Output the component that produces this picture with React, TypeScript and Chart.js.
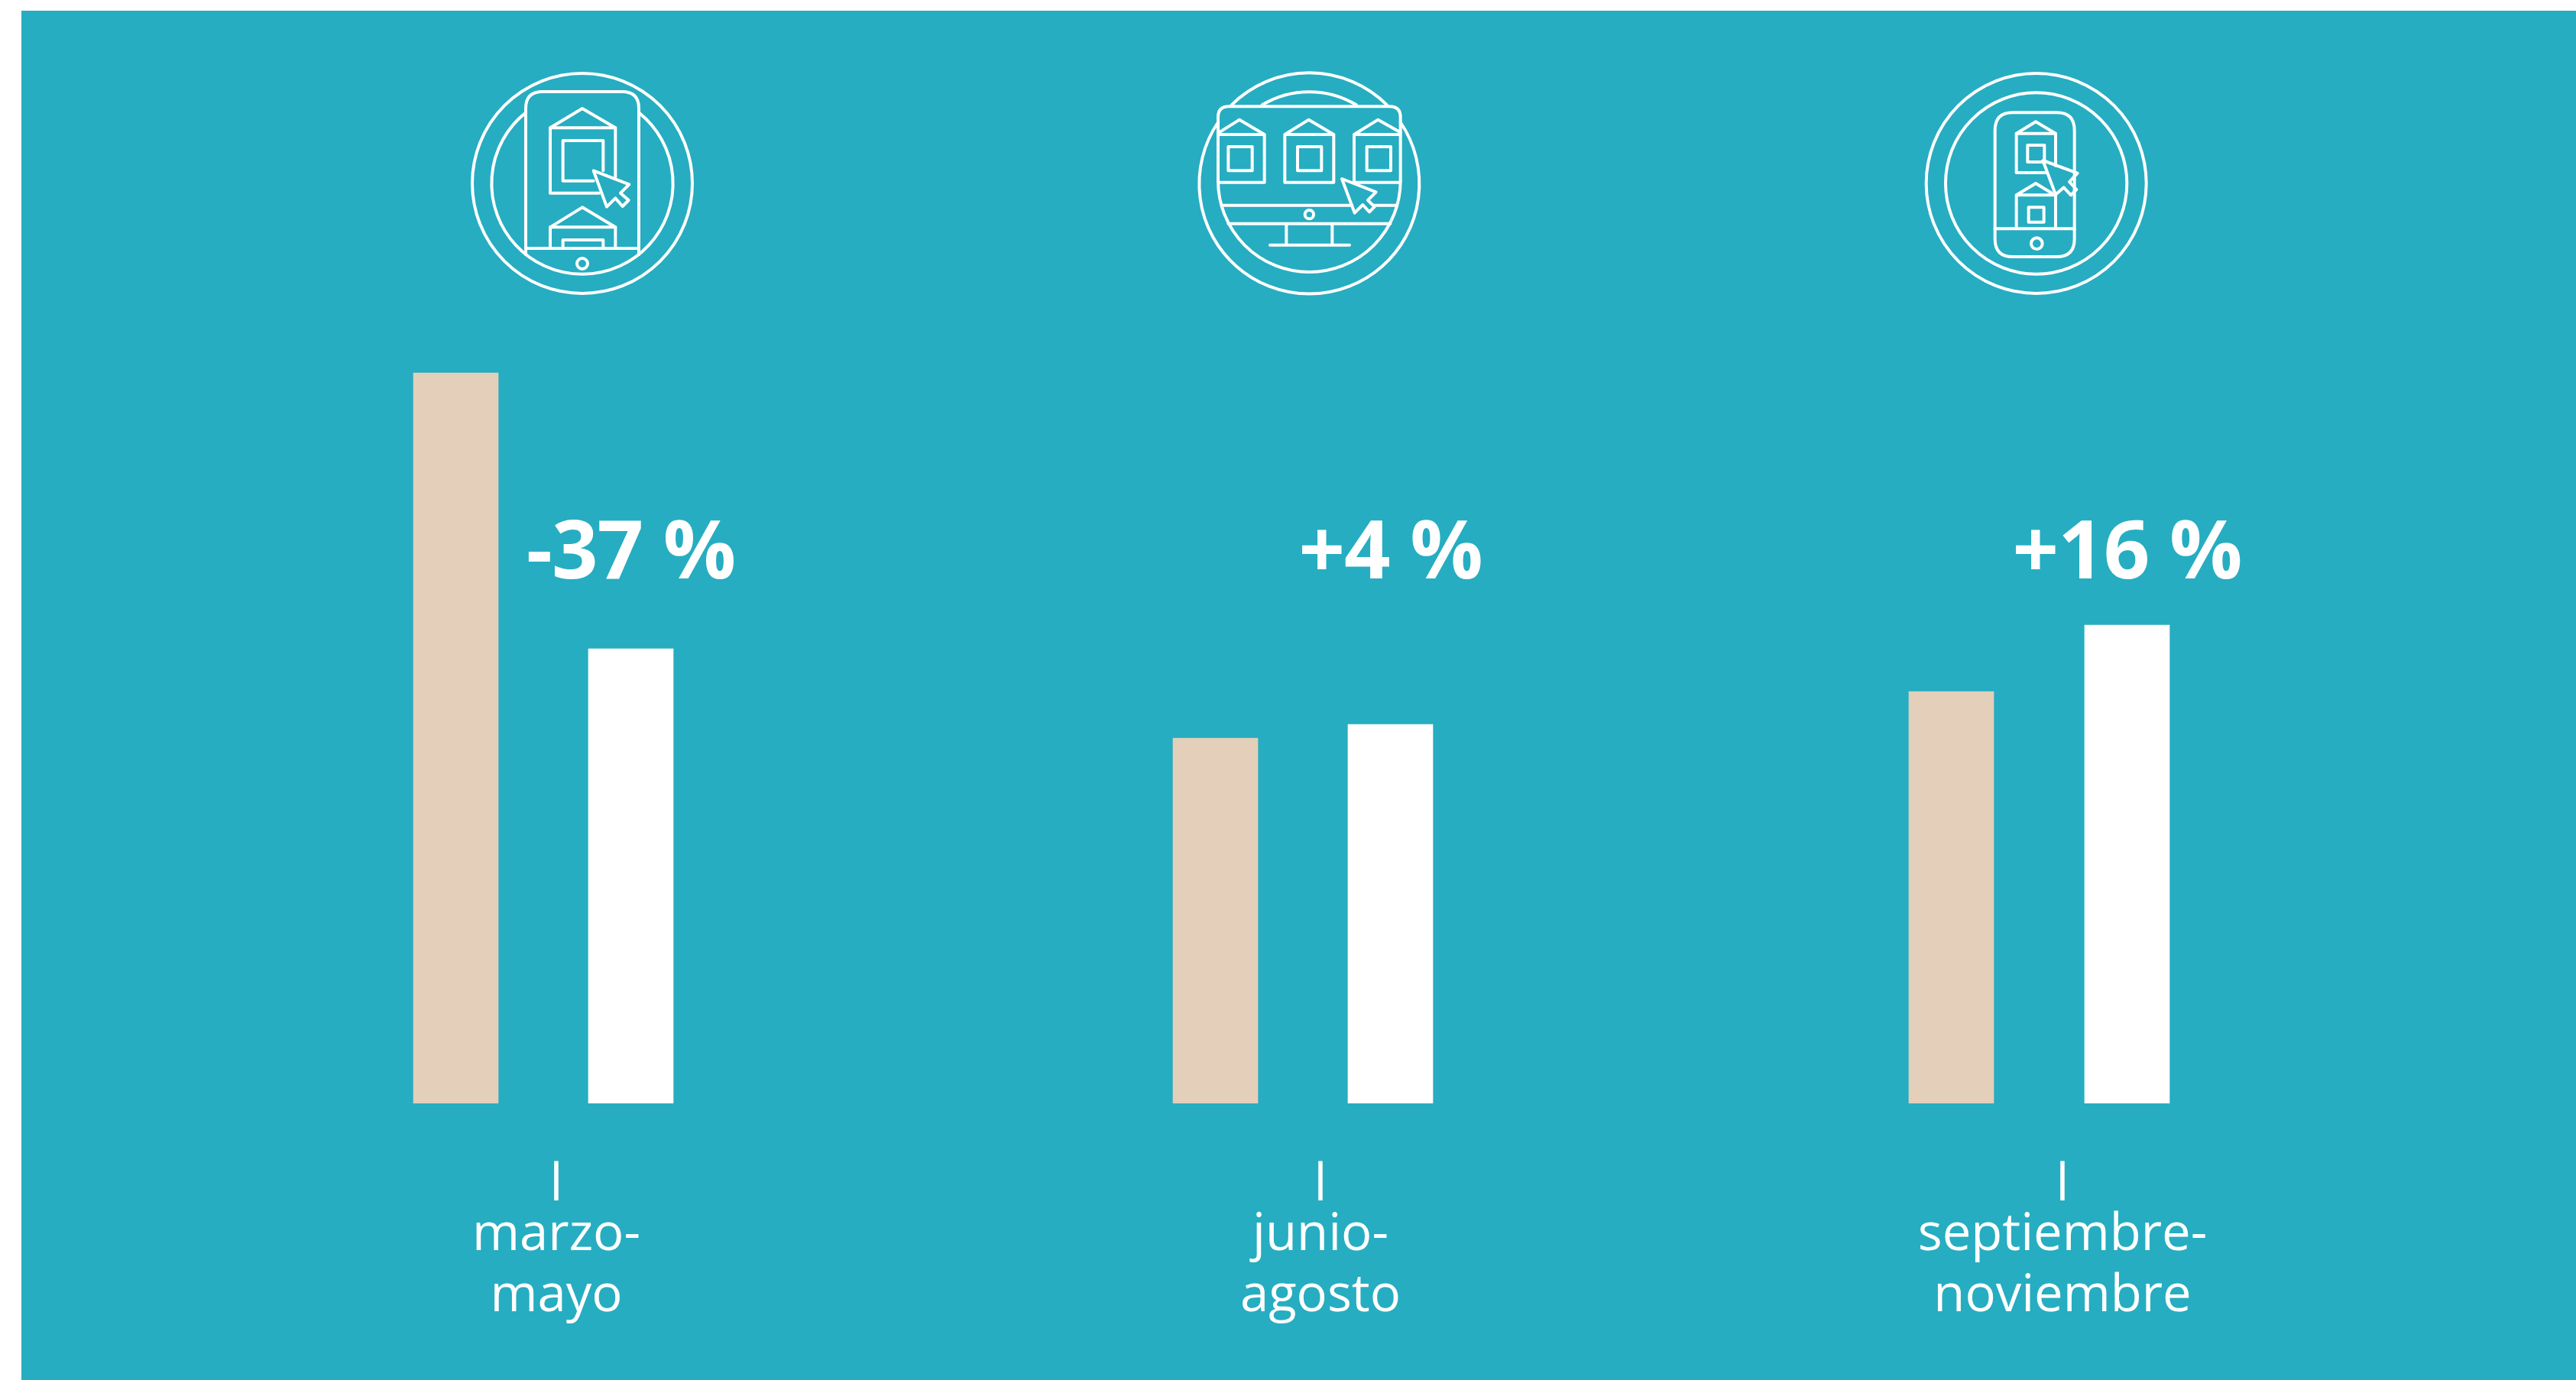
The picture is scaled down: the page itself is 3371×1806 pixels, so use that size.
import React, { useEffect, useRef } from "react";
import { Chart, registerables } from "chart.js";

Chart.register(...registerables);

// ---- data ----
const periodLabels: string[][] = [["marzo-", "mayo"], ["junio-", "agosto"], ["septiembre-", "noviembre"]];
const before: number[] = [100, 50, 56.38];
const after: number[] = [62.24, 51.88, 65.48];
const changeLabels: string[] = ["-37 %", "+4 %", "+16 %"];

// ---- layout (canvas px) ----
const W = 3371;
const H = 1806;
const barCenters1 = [596.5, 1590.5, 2553.5];
const barCenters2 = [825.5, 1819.5, 2783.5];
const labelCenters = [728, 1728, 2699];
const Y_MAX = 151.05;
const BASELINE = 1444;

const TEAL = "#26adc1";
const BEIGE = "#e4cfba";
const FONT = "'Open Sans', sans-serif";

type Icon = { ox: number; oy: number; paths: string[] };
const circle = (x: number, y: number, r: number) =>
  `M${x - r} ${y} A${r} ${r} 0 1 1 ${x + r} ${y} A${r} ${r} 0 1 1 ${x - r} ${y} Z`;
const rect = (a: number, b: number, c: number, d: number) => `M${a} ${b} H${c} V${d} H${a} Z`;

const icons: Icon[] = [
  {
    ox: 560,
    oy: 60,
    paths: [
      circle(606, 540, 432),
      "M828 262 A356 356 0 1 1 384 262",
      "M384 820 V245 Q384 180 450 180 H762 Q828 180 828 245 V820",
      "M384 795 H828",
      circle(606, 855, 21),
      "M480 322 L606 246 L736 322 Z",
      "M736 322 V515 M480 322 V578 H672",
      "M688 490 V372 H530 V530 H650",
      "M650 490 L790 544 L756 578 L788 606 L764 630 L736 598 L702 632 Z",
      "M480 712 L606 634 L736 712 Z",
      "M480 712 V795 M736 712 V795 M530 795 V762 H688 V795",
    ],
  },
  {
    ox: 1520,
    oy: 60,
    paths: [
      "M275 232 A432 432 0 0 1 885 232",
      "M938 300 A432 432 0 1 1 222 300",
      "M395 232 A358 358 0 0 1 765 232",
      "M222 530 V280 Q222 238 265 238 H895 Q938 238 938 280 V530",
      "M222 530 A358 358 0 0 0 938 530",
      "M236 626 H748 M832 626 H922",
      "M262 698 H898",
      "M490 698 V782 M670 698 V782 M426 782 H738",
      circle(580, 662, 17),
      "M226 340 L306 290 L404 348 M222 348 H404 V536 H226",
      rect(262, 396, 356, 490),
      "M484 348 L578 290 L676 348 Z M484 348 V536 H676 V348",
      rect(534, 396, 628, 490),
      "M756 348 L850 290 L938 340 M756 348 H938 M756 348 V536 M756 536 H936",
      rect(806, 396, 900, 490),
      "M708 522 L842 574 L810 606 L836 632 L816 652 L790 624 L758 656 Z",
    ],
  },
  {
    ox: 2470,
    oy: 60,
    paths: [
      circle(584, 540, 432),
      circle(584, 540, 356),
      "M492 262 H664 Q734 262 734 332 V758 Q734 828 664 828 H492 Q422 828 422 758 V332 Q422 262 492 262 Z",
      "M422 718 H734",
      circle(586, 776, 22),
      "M506 344 L582 298 L660 344 Z",
      "M506 344 V498 H620 M660 344 V470",
      rect(550, 390, 616, 456),
      "M610 450 L746 500 L714 534 L742 564 L720 586 L692 556 L660 584 Z",
      "M506 586 L582 540 L645 578 M506 586 V710 M506 586 H660 V710",
      rect(554, 634, 614, 692),
    ],
  },
];

const decorPlugin = {
  id: "decor",
  beforeDraw(chart: any) {
    const { ctx } = chart;
    ctx.save();
    ctx.fillStyle = "#ffffff";
    ctx.fillRect(0, 0, W, H);
    ctx.fillStyle = TEAL;
    ctx.fillRect(28, 14, W - 28, H - 14);
    ctx.restore();
  },
  afterDraw(chart: any) {
    const { ctx } = chart;
    ctx.save();
    // icons
    ctx.strokeStyle = "#ffffff";
    ctx.lineJoin = "round";
    ctx.lineCap = "round";
    icons.forEach((ic) => {
      ctx.save();
      ctx.translate(ic.ox, ic.oy);
      ctx.scale(1 / 3, 1 / 3);
      ctx.lineWidth = 12;
      ic.paths.forEach((p) => ctx.stroke(new Path2D(p)));
      ctx.restore();
    });
    // change labels, above the second series' bars
    const meta = chart.getDatasetMeta(1);
    ctx.fillStyle = "#ffffff";
    ctx.textAlign = "center";
    ctx.textBaseline = "alphabetic";
    ctx.font = `bold 106px ${FONT}`;
    ctx.letterSpacing = "-1px";
    changeLabels.forEach((t, i) => {
      ctx.fillText(t, meta.data[i].x, 757);
    });
    ctx.letterSpacing = "0px";
    // separators
    ctx.font = `67px ${FONT}`;
    labelCenters.forEach((x) => ctx.fillText("l", x, 1571));
    ctx.restore();
  },
};

export default function App() {
  const ref = useRef<HTMLCanvasElement | null>(null);
  useEffect(() => {
    document.body.style.margin = "0";
    const chart = new Chart(ref.current!, {
      type: "bar",
      data: {
        datasets: [
          {
            label: "antes",
            data: before.map((y, i) => ({ x: barCenters1[i], y })),
            backgroundColor: BEIGE,
            barThickness: 111,
            grouped: false,
          },
          {
            label: "después",
            data: after.map((y, i) => ({ x: barCenters2[i], y })),
            backgroundColor: "#ffffff",
            barThickness: 111,
            grouped: false,
          },
        ] as any,
      },
      options: {
        animation: false,
        responsive: false,
        maintainAspectRatio: false,
        layout: { padding: 0 },
        plugins: { legend: { display: false }, tooltip: { enabled: false }, title: { display: false } },
        scales: {
          x: {
            type: "linear",
            min: 0,
            max: W,
            offset: false,
            grid: { display: false, drawTicks: false },
            border: { display: false },
            afterBuildTicks(scale: any) {
              scale.ticks = labelCenters.map((value) => ({ value }));
            },
            afterFit(scale: any) {
              scale.height = H - BASELINE;
            },
            ticks: {
              color: "#ffffff",
              autoSkip: false,
              maxRotation: 0,
              minRotation: 0,
              padding: 133,
              font: { family: "'Open Sans', sans-serif", size: 67, lineHeight: 80 / 67 },
              callback(value: any) {
                const i = labelCenters.indexOf(value);
                return i >= 0 ? periodLabels[i] : "";
              },
            },
          } as any,
          y: { display: false, min: 0, max: Y_MAX },
        },
      },
      plugins: [decorPlugin],
    });
    return () => chart.destroy();
  }, []);
  return (
    <div style={{ position: "fixed", left: 0, top: 0, width: W, height: H, overflow: "hidden" }}>
      <canvas ref={ref} width={W} height={H} style={{ display: "block", width: W, height: H }} />
    </div>
  );
}
